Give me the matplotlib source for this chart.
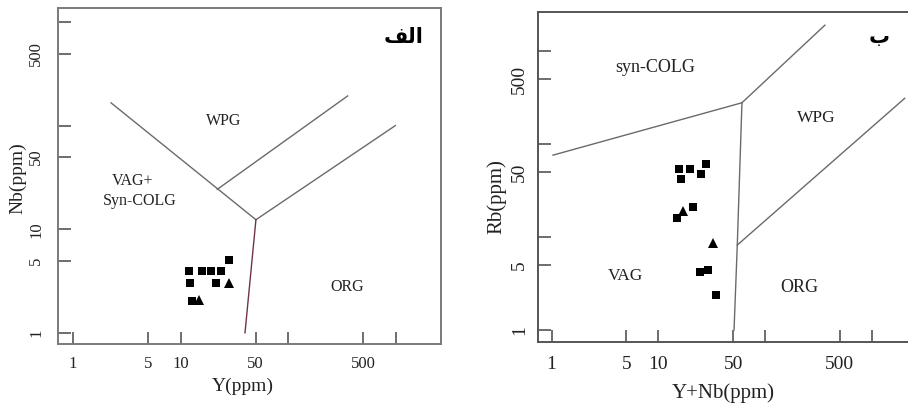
import matplotlib
matplotlib.use("Agg")
import matplotlib.pyplot as plt

plt.rcParams['font.family'] = ['Liberation Serif', 'DejaVu Serif']

# ---------------- data: panel a (Nb vs Y) ----------------
a_sq_y = [11.9, 12.3, 12.7, 16.0, 19.1, 23.8, 21.4, 28.1]
a_sq_nb = [4.0, 3.06, 2.04, 4.0, 4.0, 4.0, 3.06, 5.07]
a_tr_y = [15.0, 28.1]
a_tr_nb = [2.08, 3.06]

# boundaries (Y, Nb)
a_b1_x = [2.26, 50.3]; a_b1_y = [167, 12.4]
a_b2_x = [22.0, 359];  a_b2_y = [24.4, 195]
a_b3_x = [50.3, 996];  a_b3_y = [12.4, 100.7]
a_b4_x = [50.3, 39.8]; a_b4_y = [12.4, 1.0]

# ---------------- data: panel b (Rb vs Y+Nb) ----------------
b_sq_x = [15.7, 16.3, 19.7, 25.2, 28.0, 15.0, 21.2, 24.5, 29.1, 34.5]
b_sq_rb = [54.2, 41.7, 53.4, 47.6, 60.5, 15.9, 20.9, 4.24, 4.39, 2.36]
b_tr_x = [17.1, 32.2]
b_tr_rb = [19.0, 8.55]

b_b1_x = [1.03, 60.5]; b_b1_y = [76, 278]
b_b2_x = [60.5, 362];  b_b2_y = [278, 1900]
b_b3_x = [60.5, 54.7, 51.0]; b_b3_y = [278, 8.2, 1.0]
b_b4_x = [54.7, 2019]; b_b4_y = [8.2, 310]

ticks = [1, 5, 10, 50, 100, 500, 1000]
a_xlabels = ['1', '5', '10', '50', '', '500', '']
a_ylabels = ['1', '5', '10', '50', '', '500', '']
b_xlabels = ['1', '5', '10', '50', '', '500', '']
b_ylabels = ['1', '5', '', '50', '', '500', '']

W, H = 908, 403
fig = plt.figure(figsize=(W / 100, H / 100), dpi=100)

def px_axes(x0, x1, top, bottom):
    return fig.add_axes([x0 / W, (H - bottom) / H, (x1 - x0) / W, (bottom - top) / H])

line_c = '#6a6a6a'
frame_c = '#7a7a7a'
txt_c = '#222222'

# ---------------- panel a ----------------
ax = px_axes(58, 441, 8, 344)
ax.set_xscale('log'); ax.set_yscale('log')
ax.set_xlim(0.725, 2650); ax.set_ylim(0.78, 1380)
ax.plot(a_b1_x, a_b1_y, color=line_c, lw=1.0)
ax.plot(a_b2_x, a_b2_y, color=line_c, lw=1.0)
ax.plot(a_b3_x, a_b3_y, color=line_c, lw=1.0)
ax.plot(a_b4_x, a_b4_y, color='#6e3448', lw=1.0)
ax.plot(a_sq_y, a_sq_nb, 's', color='black', ms=6.2, mew=0, ls='none')
ax.plot(a_tr_y, a_tr_nb, '^', color='black', ms=7, mew=0, ls='none')
ax.set_xticks(ticks); ax.set_xticklabels(a_xlabels)
ax.set_yticks(ticks); ax.set_yticklabels(a_ylabels, rotation=90, va='center')
ax.minorticks_off()
ax.tick_params(axis='both', direction='in', length=9, width=1.2, color='#555555',
               labelsize=12, labelcolor=txt_c)
ax.tick_params(axis='x', pad=9)
ax.tick_params(axis='y', pad=10)
for s in ax.spines.values():
    s.set_color(frame_c); s.set_linewidth(1.4)
ax.set_xlabel('Y(ppm)', fontsize=14, color=txt_c)
ax.xaxis.label.set_verticalalignment('center')
ax.xaxis.set_label_coords(0.483, -0.125)
ax.set_ylabel('Nb(ppm)', fontsize=14, color=txt_c)
ax.yaxis.label.set_verticalalignment('center')
ax.yaxis.set_label_coords(-0.104, 0.494)
ax.text(25.4, 112, 'WPG', fontsize=11.5, ha='center', va='center', color=txt_c)
ax.text(3.59, 29.6, 'VAG+', fontsize=11.5, ha='center', va='center', color=txt_c)
ax.text(4.14, 18.6, 'Syn-COLG', fontsize=11.5, ha='center', va='center', color=txt_c)
ax.text(359, 2.8, 'ORG', fontsize=11.5, ha='center', va='center', color=txt_c)
ax.text(0.903, 0.913, '\ufed2\ufedf\ufe8d', transform=ax.transAxes, fontsize=15,
        fontweight='bold', ha='center', va='center', color='black',
        family=['DejaVu Sans'])

# ---------------- panel b ----------------
bx = px_axes(538, 915, 12, 342.3)
bx.set_xscale('log'); bx.set_yscale('log')
bx.set_xlim(0.745, 2523); bx.set_ylim(0.738, 2630)
bx.plot(b_b1_x, b_b1_y, color=line_c, lw=1.0)
bx.plot(b_b2_x, b_b2_y, color=line_c, lw=1.0)
bx.plot(b_b3_x, b_b3_y, color=line_c, lw=1.0)
bx.plot(b_b4_x, b_b4_y, color=line_c, lw=1.0)
bx.plot(b_sq_x, b_sq_rb, 's', color='black', ms=6.2, mew=0, ls='none')
bx.plot(b_tr_x, b_tr_rb, '^', color='black', ms=7, mew=0, ls='none')
bx.set_xticks(ticks); bx.set_xticklabels(b_xlabels)
bx.set_yticks(ticks); bx.set_yticklabels(b_ylabels, rotation=90, va='center')
bx.minorticks_off()
bx.tick_params(axis='both', direction='in', length=9, width=1.2, color='#555555',
               labelsize=14, labelcolor=txt_c)
bx.tick_params(axis='x', pad=10)
bx.tick_params(axis='y', pad=7)
for s in bx.spines.values():
    s.set_color('#555555'); s.set_linewidth(1.4)
bx.spines['right'].set_visible(False)
bx.set_xlabel('Y+Nb(ppm)', fontsize=15, color=txt_c)
bx.xaxis.label.set_verticalalignment('center')
bx.xaxis.set_label_coords(0.491, -0.153)
bx.set_ylabel('Rb(ppm)', fontsize=15, color=txt_c)
bx.yaxis.label.set_verticalalignment('center')
bx.yaxis.set_label_coords(-0.109, 0.44)
bx.text(9.27, 662, 'syn-COLG', fontsize=13, ha='center', va='center', color=txt_c)
bx.text(300, 189, 'WPG', fontsize=12.5, ha='center', va='center', color=txt_c)
bx.text(4.93, 3.84, 'VAG', fontsize=12.5, ha='center', va='center', color=txt_c)
bx.text(210, 2.88, 'ORG', fontsize=13, ha='center', va='center', color=txt_c)
bx.text(0.905, 0.923, 'ب', transform=bx.transAxes, fontsize=15,
        fontweight='bold', ha='center', va='center', color='black',
        family=['DejaVu Sans'])

fig.savefig('out.png', dpi=100)
